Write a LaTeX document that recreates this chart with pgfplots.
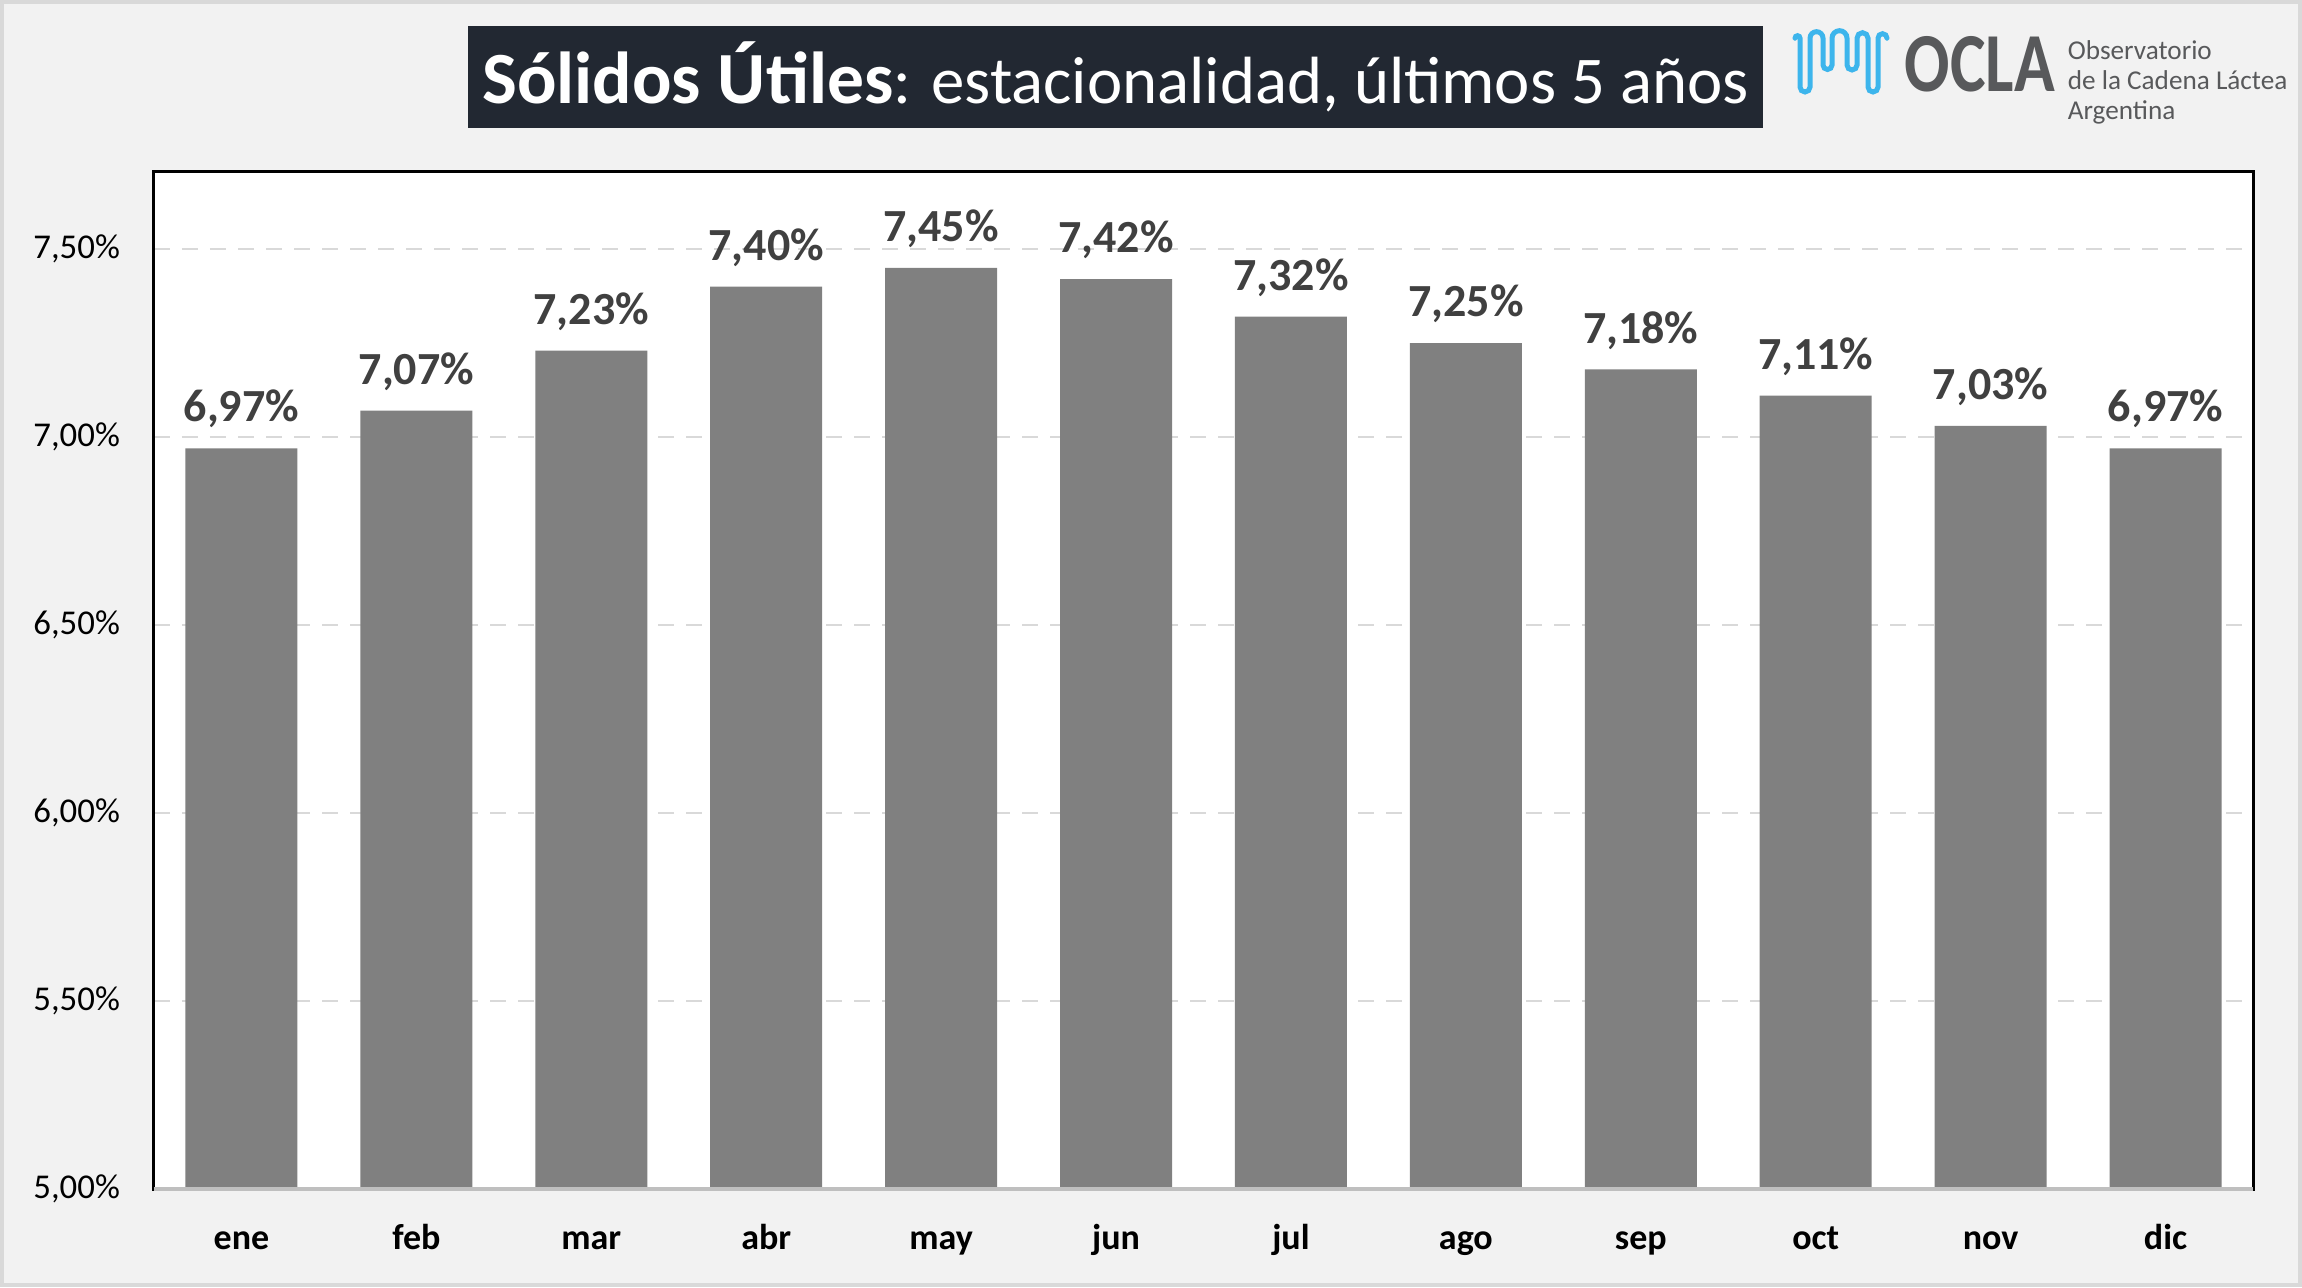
\documentclass[border=0pt]{standalone}
\usepackage{pgfplots}
\pgfplotsset{compat=1.18}
\usepackage{fontspec}
\setmainfont{Carlito}
\definecolor{bg}{HTML}{F2F2F2}
\definecolor{framegray}{HTML}{D9D9D9}
\definecolor{gridgray}{HTML}{D9D9D9}
\definecolor{barcol}{HTML}{808080}
\definecolor{labelgray}{HTML}{404040}
\definecolor{titlebox}{HTML}{222832}
\definecolor{logogray}{HTML}{58595B}
\definecolor{oclablue}{HTML}{3DB5EC}
\definecolor{bottomline}{HTML}{BFBFBF}
\begin{document}
\begin{tikzpicture}
\useasboundingbox (0pt,0pt) rectangle (575.5pt,321.75pt);
\fill[bg] (0pt,0pt) rectangle (575.5pt,321.75pt);
\draw[framegray, line width=0.9pt] (0.45pt,0.45pt) rectangle (575.05pt,321.3pt);
\begin{axis}[
  at={(38.5pt,24.5pt)}, anchor=south west,
  scale only axis, width=524.75pt, height=254.25pt,
  xmin=-0.5, xmax=11.5, ymin=5, ymax=7.705,
  ybar, bar width=28pt,
  xtick={0,1,2,3,4,5,6,7,8,9,10,11},
  xticklabels={ene,feb,mar,abr,may,jun,jul,ago,sep,oct,nov,dic},
  ytick={5,5.5,6,6.5,7,7.5},
  /pgf/number format/assume math mode=true,
  yticklabel={\pgfmathprintnumber[fixed,fixed zerofill,precision=2,use comma]{\tick}\%},
  ymajorgrids, grid style={dashed, gridgray, line width=0.6pt, dash pattern=on 4pt off 3pt},
  major tick length=0pt,
  axis background/.style={fill=white},
  axis line style={black, line width=0.75pt},
  x tick label style={font=\bfseries\fontsize{9}{10}\selectfont, text=black, anchor=base, yshift=-15pt},
  y tick label style={font=\fontsize{8.7}{10}\selectfont, text=black, anchor=east, xshift=-5pt},
  nodes near coords={\pgfmathprintnumber[fixed,fixed zerofill,precision=2,use comma]{\pgfplotspointmeta}\%},
  nodes near coords style={font=\bfseries\fontsize{11.5}{13}\selectfont, text=labelgray, anchor=south, yshift=1.5pt},
  point meta=y,
  clip=false,
]
\addplot[fill=barcol, draw=none] coordinates {
(0,6.97) (1,7.07) (2,7.23) (3,7.40) (4,7.45) (5,7.42) (6,7.32) (7,7.25) (8,7.18) (9,7.11) (10,7.03) (11,6.97)};
\draw[bottomline, line width=0.9pt] (rel axis cs:0,0) -- (rel axis cs:1,0);
\end{axis}
% title
\fill[titlebox] (117pt,289.75pt) rectangle (440.75pt,315.25pt);
\node[text=white, anchor=center, inner sep=0pt] at (278.9pt,302.5pt)
  {{\fontsize{18.4}{20}\selectfont\textbf{Sólidos Útiles}}{\fontsize{16.7}{20}\selectfont: estacionalidad, últimos 5 años}};
% logo
\draw[oclablue, line width=1.25pt, line cap=round]
  (448.75pt,312.2pt) arc[start angle=180,end angle=0,radius=0.625pt]
  -- (450pt,300pt) arc[start angle=180,end angle=360,radius=1.25pt]
  -- (452.5pt,312.2pt) arc[start angle=180,end angle=0,radius=1.625pt]
  -- (455.75pt,305.5pt) arc[start angle=180,end angle=360,radius=1.125pt]
  -- (458pt,312.2pt) arc[start angle=180,end angle=0,radius=1.875pt]
  -- (461.75pt,305.5pt) arc[start angle=180,end angle=360,radius=1.25pt]
  -- (464.25pt,312.2pt) arc[start angle=180,end angle=0,radius=1.375pt]
  -- (467pt,300pt) arc[start angle=180,end angle=360,radius=1.25pt]
  -- (469.5pt,312.2pt) arc[start angle=180,end angle=0,radius=1.125pt];
\node[text=logogray, anchor=center, inner sep=0pt, xscale=0.8] at (495pt,305.75pt)
  {\fontsize{21}{22}\selectfont\bfseries OCLA};
\node[text=logogray, anchor=base west, inner sep=0pt] at (516.75pt,306.75pt)
  {\fontsize{6.8}{7}\selectfont Observatorio};
\node[text=logogray, anchor=base west, inner sep=0pt] at (516.75pt,299.25pt)
  {\fontsize{6.8}{7}\selectfont de la Cadena Láctea};
\node[text=logogray, anchor=base west, inner sep=0pt] at (516.75pt,291.75pt)
  {\fontsize{6.8}{7}\selectfont Argentina};
\end{tikzpicture}
\end{document}
